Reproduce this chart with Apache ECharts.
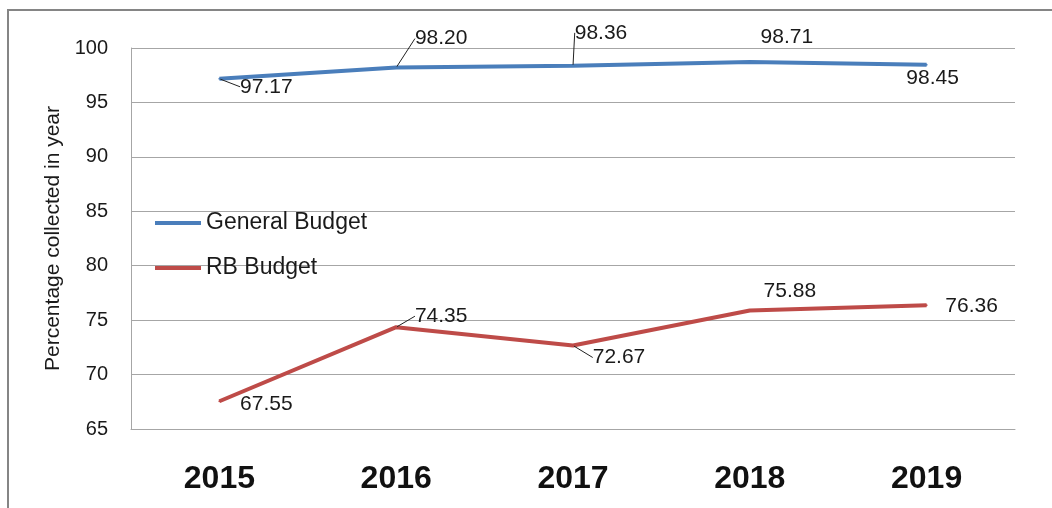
<!DOCTYPE html>
<html>
<head>
<meta charset="utf-8">
<title>Percentage collected in year</title>
<script src="https://cdn.jsdelivr.net/npm/echarts@6/dist/echarts.min.js"></script>
<style>
  html, body { margin: 0; padding: 0; background: #ffffff; }
  #chart { width: 1052px; height: 508px; }
</style>
</head>
<body>
<div id="chart"></div>
<script>
// Collection rates by year
const years = ['2015', '2016', '2017', '2018', '2019'];
const generalBudget = [97.17, 98.20, 98.36, 98.71, 98.45];
const rbBudget = [67.55, 74.35, 72.67, 75.88, 76.36];
const yTicks = { min: 65, max: 100, step: 5 };

// Where each value label sits relative to its point, and whether it gets a leader line
const generalLabelShift = [[47, 8, true], [45, -29, true], [28, -33, true], [37, -25, false], [6, 13, false]];
const rbLabelShift = [[47, 3, false], [45, -11, true], [46, 12, true], [40, -19, false], [45, 1, false]];

const BLUE = '#4a7ebb';
const RED = '#be4b48';
const FONT = 'Liberation Sans, Arial, sans-serif';

function seriesData(values, shifts) {
  return values.map((v, i) => ({
    value: v,
    labelLine: { show: shifts[i][2] }
  }));
}

function makeSeries(name, values, shifts, color) {
  return {
    name: name,
    type: 'line',
    data: seriesData(values, shifts),
    symbol: 'circle',
    symbolSize: 2,
    showSymbol: true,
    itemStyle: { color: color },
    lineStyle: { color: color, width: 4 },
    label: {
      show: true,
      position: 'inside',
      color: '#1a1a1a',
      fontFamily: FONT,
      fontSize: 21,
      formatter: p => p.value.toFixed(2)
    },
    labelLine: {
      show: true,
      lineStyle: { color: '#222', width: 1 }
    },
    labelLayout: p => ({ dx: shifts[p.dataIndex][0], dy: shifts[p.dataIndex][1] }),
    emphasis: { disabled: true },
    animation: false
  };
}

const chart = echarts.init(document.getElementById('chart'), null, { renderer: 'canvas' });
chart.setOption({
  backgroundColor: '#ffffff',
  animation: false,
  graphic: [{
    type: 'rect',
    shape: { x: 8, y: 10, width: 1080, height: 540 },
    style: { fill: 'none', stroke: '#858585', lineWidth: 2 },
    silent: true,
    z: 0
  }],
  grid: { left: 131, right: 37, top: 48, bottom: 79 },
  legend: {
    orient: 'vertical',
    left: 150,
    top: 206,
    icon: 'rect',
    itemWidth: 46,
    itemHeight: 4,
    itemGap: 21,
    textStyle: { fontFamily: FONT, fontSize: 23, color: '#1a1a1a', lineHeight: 24 },
    data: ['General Budget', 'RB Budget']
  },
  xAxis: {
    type: 'category',
    data: years,
    boundaryGap: true,
    axisLine: { show: true, lineStyle: { color: '#a6a6a6', width: 1 } },
    axisTick: { show: false },
    axisLabel: {
      margin: 34,
      fontFamily: FONT,
      fontSize: 32,
      fontWeight: 'bold',
      color: '#111'
    }
  },
  yAxis: {
    type: 'value',
    min: yTicks.min,
    max: yTicks.max,
    interval: yTicks.step,
    name: 'Percentage collected in year',
    nameLocation: 'middle',
    nameGap: 66,
    nameRotate: 90,
    nameTextStyle: { fontFamily: FONT, fontSize: 21, color: '#1a1a1a' },
    axisLine: { show: true, lineStyle: { color: '#a6a6a6', width: 1 } },
    axisTick: { show: false },
    splitLine: { show: true, lineStyle: { color: '#a6a6a6', width: 1 } },
    axisLabel: {
      margin: 23,
      fontFamily: FONT,
      fontSize: 20,
      color: '#1a1a1a'
    }
  },
  series: [
    makeSeries('General Budget', generalBudget, generalLabelShift, BLUE),
    makeSeries('RB Budget', rbBudget, rbLabelShift, RED)
  ]
});
</script>
</body>
</html>
